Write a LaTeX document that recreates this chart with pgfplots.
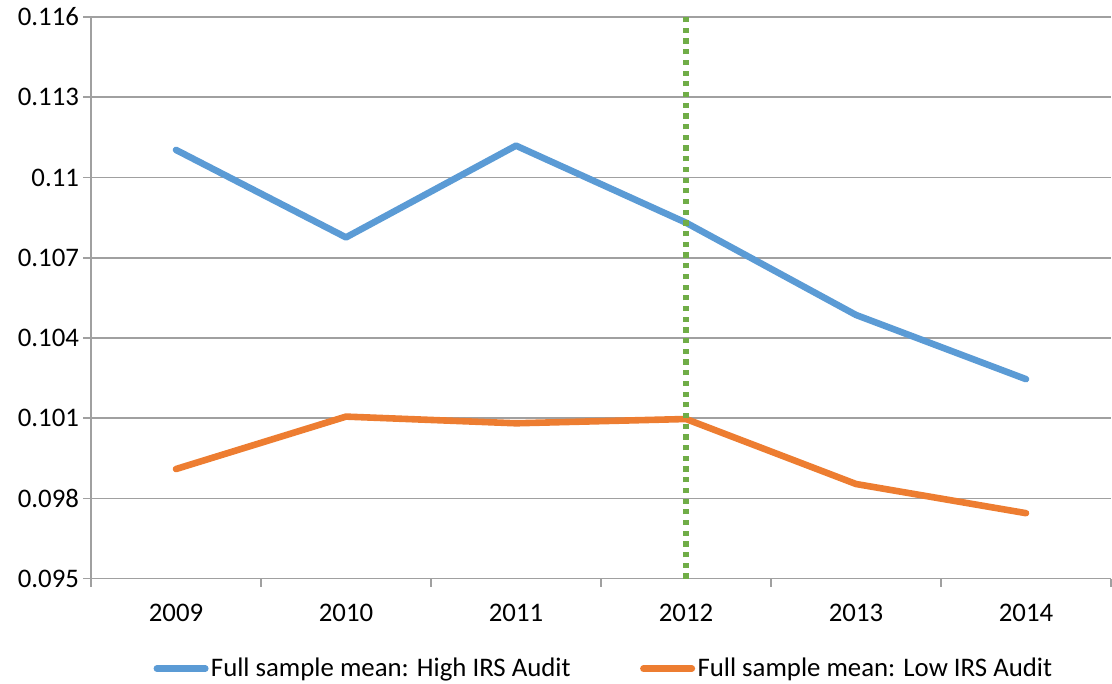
\documentclass[border=0pt]{standalone}
\usepackage{fontspec}
\setmainfont{Carlito}
\usepackage{pgfplots}
\pgfplotsset{compat=1.18}
\definecolor{hiblue}{HTML}{5B9BD5}
\definecolor{loorange}{HTML}{ED7D31}
\definecolor{cutgreen}{HTML}{70AD47}
\definecolor{gridgray}{HTML}{A0A0A0}

\begin{document}
\begin{tikzpicture}[font=\fontsize{13.4pt}{16pt}\selectfont]
\begin{axis}[
	at = {(0,0)}, anchor = south west,
	scale only axis,
	width = 510pt,
	height = 280.85pt,
	xmin = -0.5, xmax = 5.5,
	ymin = 0.095, ymax = 0.116,
	axis lines* = left,
	axis line style = {gridgray, line width = 0.8pt},
	xtick = {0, 1, 2, 3, 4, 5},
	xticklabels = {2009, 2010, 2011, 2012, 2013, 2014},
	minor xtick = {-0.5, 0.5, 1.5, 2.5, 3.5, 4.5, 5.5},
	ytick = {0.095, 0.098, 0.101, 0.104, 0.107, 0.11, 0.113, 0.116},
	yticklabel style = {xshift = 1.5pt, /pgf/number format/fixed, /pgf/number format/precision = 3},
	/pgf/number format/assume math mode = true,
	xticklabel style = {yshift = -5pt},
	ymajorgrids,
	grid style = {gridgray, line width = 0.8pt},
	tick align = outside,
	major tick length = 4pt,
	minor tick length = 4pt,
	tick style = {gridgray, line width = 0.8pt},
	major x tick style = {draw = none},
	legend columns = 2,
	legend style = {
		draw = none,
		at = {(0.503, -0.16)}, anchor = center,
		/tikz/every even column/.append style = {column sep = 33.5pt},
		inner xsep = 0pt,
		nodes = {inner xsep = 1.2pt},
	},
	legend cell align = left,
	legend image code/.code = {\draw[#1, line cap = round] (1.65pt, 0pt) -- (25.85pt, 0pt);},
]
% series
\addplot[hiblue, line width = 3.3pt, line join = round, line cap = round] coordinates {
	(0, 0.11103) (1, 0.10776) (2, 0.11119) (3, 0.10831) (4, 0.10486) (5, 0.10246)
};
\addlegendentry{Full sample mean: High IRS Audit}
\addplot[loorange, line width = 3.3pt, line join = round, line cap = round] coordinates {
	(0, 0.09910) (1, 0.10106) (2, 0.10081) (3, 0.10097) (4, 0.09854) (5, 0.09745)
};
\addlegendentry{Full sample mean: Low IRS Audit}
% 2012 marker
\addplot[cutgreen, line width = 2.6pt, dash pattern = on 2.6pt off 2.75pt, forget plot] coordinates {
	(3, 0.095) (3, 0.116)
};
\end{axis}
\pgfresetboundingbox
\path[use as bounding box] (-45.5pt, -52.65pt) rectangle (510.5pt, 289.35pt);
\end{tikzpicture}
\end{document}
